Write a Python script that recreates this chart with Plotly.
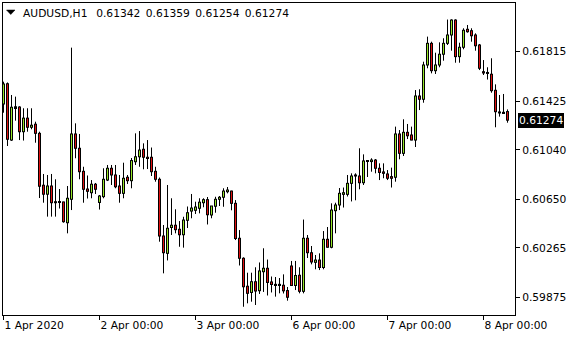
import plotly.graph_objects as go

# ---- data (AUDUSD H1) ----
open_ = [0.61402, 0.61562, 0.61117, 0.61380, 0.61378, 0.61183, 0.61290, 0.61218, 0.61242, 0.61170,
         0.60760, 0.60689, 0.60754, 0.60630, 0.60628, 0.60628, 0.60464, 0.60649, 0.61165, 0.61052,
         0.60870, 0.60730, 0.60701, 0.60768, 0.60624, 0.60670, 0.60801, 0.60894, 0.60841, 0.60754,
         0.60696, 0.60823, 0.60796, 0.60946, 0.60985, 0.61044, 0.60981, 0.60981, 0.60870, 0.60807,
         0.60359, 0.60222, 0.60426, 0.60444, 0.60412, 0.60369, 0.60483, 0.60556, 0.60562, 0.60578,
         0.60622, 0.60646, 0.60525, 0.60594, 0.60649, 0.60665, 0.60709, 0.60714, 0.60617, 0.60341,
         0.60183, 0.59962, 0.59913, 0.59998, 0.59927, 0.60077, 0.60104, 0.59996, 0.59977, 0.59977,
         0.59970, 0.59928, 0.60122, 0.59968, 0.60049, 0.59922, 0.60341, 0.60227, 0.60151, 0.60169,
         0.60110, 0.60333, 0.60270, 0.60559, 0.60604, 0.60688, 0.60688, 0.60775, 0.60833, 0.60833,
         0.60780, 0.60948, 0.60947, 0.60959, 0.60894, 0.60865, 0.60849, 0.60828, 0.60823, 0.61165,
         0.61012, 0.61178, 0.61157, 0.61117, 0.61465, 0.61439, 0.61710, 0.61881, 0.61665, 0.61710,
         0.61795, 0.61881, 0.61947, 0.62065, 0.61776, 0.61850, 0.61992, 0.61981, 0.61947, 0.61868,
         0.61657, 0.61651, 0.61637, 0.61510, 0.61339, 0.61336, 0.61342]
high = [0.61578, 0.61572, 0.61473, 0.61460, 0.61384, 0.61368, 0.61368, 0.61368, 0.61262, 0.61183,
        0.60849, 0.60841, 0.60849, 0.60807, 0.60730, 0.60630, 0.60754, 0.61847, 0.61249, 0.61165,
        0.60906, 0.60837, 0.60801, 0.60778, 0.60683, 0.60894, 0.60920, 0.60920, 0.60920, 0.60841,
        0.60938, 0.60841, 0.60975, 0.61170, 0.61188, 0.61091, 0.61117, 0.61058, 0.60906, 0.60821,
        0.60446, 0.60762, 0.60657, 0.60570, 0.60477, 0.60511, 0.60592, 0.60691, 0.60630, 0.60657,
        0.60657, 0.60667, 0.60596, 0.60669, 0.60675, 0.60736, 0.60746, 0.60717, 0.60643, 0.60406,
        0.60191, 0.60069, 0.60069, 0.60112, 0.60150, 0.60262, 0.60173, 0.60039, 0.60035, 0.60027,
        0.60056, 0.59956, 0.60162, 0.60162, 0.60112, 0.60489, 0.60367, 0.60280, 0.60209, 0.60222,
        0.60398, 0.60430, 0.60617, 0.60622, 0.60738, 0.60742, 0.60841, 0.60854, 0.60854, 0.61052,
        0.61004, 0.60955, 0.60973, 0.60967, 0.60933, 0.60933, 0.60880, 0.60899, 0.61223, 0.61196,
        0.61281, 0.61244, 0.61223, 0.61512, 0.61518, 0.61736, 0.61934, 0.61894, 0.61807, 0.61889,
        0.61921, 0.62069, 0.62071, 0.62071, 0.61886, 0.62000, 0.62026, 0.62000, 0.61960, 0.61876,
        0.61749, 0.61692, 0.61763, 0.61557, 0.61473, 0.61481, 0.61359]
low = [0.61333, 0.61070, 0.61110, 0.61270, 0.61117, 0.61113, 0.61183, 0.61202, 0.61096, 0.60659,
       0.60622, 0.60512, 0.60512, 0.60512, 0.60576, 0.60464, 0.60380, 0.60564, 0.60973, 0.60807,
       0.60622, 0.60655, 0.60657, 0.60691, 0.60568, 0.60657, 0.60793, 0.60762, 0.60736, 0.60622,
       0.60657, 0.60770, 0.60736, 0.60920, 0.60906, 0.60886, 0.60888, 0.60833, 0.60788, 0.60314,
       0.60064, 0.60166, 0.60367, 0.60380, 0.60274, 0.60267, 0.60422, 0.60499, 0.60533, 0.60538,
       0.60586, 0.60450, 0.60499, 0.60543, 0.60596, 0.60590, 0.60696, 0.60562, 0.60327, 0.60126,
       0.59800, 0.59827, 0.59840, 0.59814, 0.59901, 0.59917, 0.59889, 0.59913, 0.59880, 0.59906,
       0.59905, 0.59848, 0.59964, 0.59932, 0.59906, 0.59906, 0.60185, 0.60135, 0.60096, 0.60090,
       0.60096, 0.60268, 0.60262, 0.60380, 0.60564, 0.60584, 0.60671, 0.60632, 0.60641, 0.60728,
       0.60762, 0.60825, 0.60867, 0.60854, 0.60801, 0.60815, 0.60801, 0.60742, 0.60788, 0.60965,
       0.60991, 0.61125, 0.61115, 0.61062, 0.61354, 0.61412, 0.61684, 0.61644, 0.61639, 0.61692,
       0.61744, 0.61868, 0.61823, 0.61728, 0.61728, 0.61834, 0.61965, 0.61894, 0.61823, 0.61670,
       0.61631, 0.61595, 0.61491, 0.61218, 0.61302, 0.61323, 0.61254]
close = [0.61560, 0.61123, 0.61376, 0.61374, 0.61183, 0.61290, 0.61218, 0.61234, 0.61170, 0.60752,
         0.60689, 0.60754, 0.60622, 0.60622, 0.60624, 0.60472, 0.60657, 0.61165, 0.61052, 0.60867,
         0.60728, 0.60712, 0.60768, 0.60728, 0.60675, 0.60807, 0.60894, 0.60841, 0.60748, 0.60696,
         0.60815, 0.60796, 0.60955, 0.60985, 0.61038, 0.60981, 0.60971, 0.60867, 0.60807, 0.60359,
         0.60227, 0.60420, 0.60444, 0.60409, 0.60369, 0.60485, 0.60543, 0.60580, 0.60588, 0.60626,
         0.60646, 0.60527, 0.60596, 0.60649, 0.60665, 0.60714, 0.60722, 0.60617, 0.60339, 0.60183,
         0.59958, 0.59906, 0.59998, 0.59924, 0.60083, 0.60104, 0.59992, 0.59976, 0.59970, 0.59972,
         0.59926, 0.59875, 0.59968, 0.60047, 0.59922, 0.60341, 0.60227, 0.60154, 0.60169, 0.60110,
         0.60333, 0.60270, 0.60564, 0.60604, 0.60696, 0.60701, 0.60775, 0.60833, 0.60841, 0.60780,
         0.60952, 0.60953, 0.60959, 0.60894, 0.60861, 0.60854, 0.60815, 0.60815, 0.61165, 0.61012,
         0.61178, 0.61151, 0.61117, 0.61465, 0.61439, 0.61710, 0.61881, 0.61665, 0.61710, 0.61795,
         0.61881, 0.61947, 0.62065, 0.61776, 0.61850, 0.61984, 0.61973, 0.61941, 0.61862, 0.61684,
         0.61647, 0.61643, 0.61507, 0.61341, 0.61331, 0.61332, 0.61274]

bar_index = list(range(len(open_)))

x_tick_pos = [0, 24, 48, 72, 96, 120]
x_tick_text = ["1 Apr 2020", "2 Apr 00:00", "3 Apr 00:00", "6 Apr 00:00", "7 Apr 00:00", "8 Apr 00:00"]
y_tick_vals = [0.61815, 0.61425, 0.61040, 0.60650, 0.60265, 0.59875]
y_tick_text = ["0.61815", "0.61425", "0.61040", "0.60650", "0.60265", "0.59875"]
symbol = "AUDUSD,H1"

# ---- style ----
FONT = "DejaVu Sans"
FS = 10.7
BULL = "#96E628"
BEAR = "#E01010"
W, H = 580, 340
ML, MR, MT, MB = 3, 65, 3, 25
PW, PH = W - ML - MR, H - MT - MB
Y_RANGE = [0.597349, 0.621997]
X_RANGE = [-0.125, 127.875]
PX = (Y_RANGE[1] - Y_RANGE[0]) / PH   # one screen pixel in price units (outline thickness)


def px_to_paper(px, py):
    return (px - ML) / PW, (H - MB - py) / PH


# wick segments (high-low) built from the data
wick_x, wick_y = [], []
for i, h, l in zip(bar_index, high, low):
    wick_x += [i, i, None]
    wick_y += [l, h, None]

# bodies: black outline box (bar) with a coloured 1px core (line segment)
out_base, out_len = [], []
core = {BULL: ([], []), BEAR: ([], [])}
for i, o, c in zip(bar_index, open_, close):
    lo, hi = min(o, c), max(o, c)
    out_base.append(lo - 0.5 * PX)
    out_len.append(hi - lo + PX)
    if hi - lo > PX:
        xs, ys = core[BULL if c >= o else BEAR]
        xs += [i, i, None]
        ys += [lo + 0.5 * PX, hi - 0.5 * PX, None]

fig = go.Figure()
fig.add_trace(go.Scatter(x=wick_x, y=wick_y, mode="lines",
                         line=dict(color="black", width=1), hoverinfo="skip"))
fig.add_trace(go.Bar(x=bar_index, y=out_len, base=out_base, width=0.75,
                     marker=dict(color="black", line=dict(width=0)), hoverinfo="skip"))
for col, (xs, ys) in core.items():
    fig.add_trace(go.Scatter(x=xs, y=ys, mode="lines",
                             line=dict(color=col, width=1), hoverinfo="skip"))

fig.update_layout(
    width=W, height=H, autosize=False,
    margin=dict(l=ML, r=MR, t=MT, b=MB, pad=0),
    paper_bgcolor="white", plot_bgcolor="white",
    showlegend=False, barmode="overlay",
    font=dict(family=FONT, size=FS, color="black"),
    xaxis=dict(
        range=X_RANGE,
        showgrid=False, zeroline=False,
        showline=True, linecolor="black", linewidth=1, mirror=True,
        ticks="outside", ticklen=4, tickwidth=1, tickcolor="black",
        tickvals=x_tick_pos, ticktext=x_tick_text,
        ticklabelposition="outside right",
        tickfont=dict(family=FONT, size=FS, color="black"),
    ),
    yaxis=dict(
        range=Y_RANGE, side="right",
        showgrid=False, zeroline=False,
        showline=True, linecolor="black", linewidth=1, mirror=True,
        ticks="outside", ticklen=4, tickwidth=1, tickcolor="black",
        tickvals=y_tick_vals, ticktext=y_tick_text,
        tickfont=dict(family=FONT, size=FS, color="black"),
    ),
)

# title text
tx, ty = px_to_paper(22.7, 13)
title = f"{symbol}\u2002 {open_[-1]:.5f}\u2002{high[-1]:.5f}\u2002{low[-1]:.5f}\u2002{close[-1]:.5f}"
fig.add_annotation(xref="paper", yref="paper", x=tx, y=ty, xanchor="left", yanchor="middle",
                   text=title, showarrow=False, borderpad=0, borderwidth=0,
                   font=dict(family=FONT, size=FS, color="black"))

# triangle marker
p1 = px_to_paper(6.5, 10)
p2 = px_to_paper(15, 10)
p3 = px_to_paper(10.75, 14.5)
fig.add_shape(type="path", xref="paper", yref="paper",
              path=f"M {p1[0]} {p1[1]} L {p2[0]} {p2[1]} L {p3[0]} {p3[1]} Z",
              fillcolor="black", line=dict(color="black", width=0.5))

# current price label
fig.add_annotation(xref="paper", yref="y", x=1, y=close[-1], xanchor="left", yanchor="middle",
                   xshift=3, text=f"{close[-1]:.5f}", showarrow=False,
                   bgcolor="black", borderpad=1, borderwidth=0,
                   font=dict(family=FONT, size=FS, color="white"))

fig.write_html("out.html")
